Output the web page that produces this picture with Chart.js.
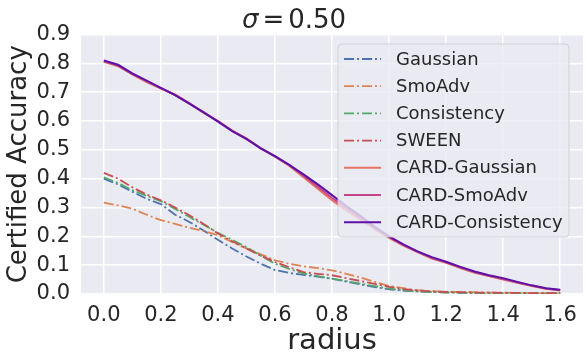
<!DOCTYPE html>
<html>
<head>
<meta charset="utf-8">
<script src="https://cdn.jsdelivr.net/npm/chart.js@4.4.0/dist/chart.umd.min.js"></script>
<style>
html, body { margin: 0; padding: 0; background: #fff; }
</style>
</head>
<body>
<canvas id="chart" width="586" height="362"></canvas>
<script>
// radius grid, step 0.05
const radius = [0, 0.05, 0.1, 0.15, 0.2, 0.25, 0.3, 0.35, 0.4, 0.45, 0.5, 0.55, 0.6, 0.65, 0.7, 0.75, 0.8,
    0.85, 0.9, 0.95, 1.0, 1.05, 1.1, 1.15, 1.2, 1.25, 1.3, 1.35, 1.4, 1.45, 1.5, 1.55, 1.6];

const gaussian = [0.40, 0.38, 0.355, 0.33, 0.312, 0.275, 0.25, 0.22, 0.188, 0.158, 0.13, 0.105, 0.083, 0.073, 0.066, 0.06, 0.053,
    0.043, 0.033, 0.024, 0.016, 0.012, 0.009, 0.007, 0.006, 0.005, 0.004, 0.004, 0.003, 0.003, 0.002, 0.002, 0.002];
const smoAdv = [0.317, 0.307, 0.296, 0.275, 0.256, 0.243, 0.23, 0.218, 0.204, 0.18, 0.158, 0.138, 0.117, 0.105, 0.096, 0.09, 0.082,
    0.07, 0.057, 0.042, 0.028, 0.02, 0.013, 0.01, 0.008, 0.007, 0.006, 0.005, 0.005, 0.004, 0.004, 0.003, 0.003];
const consistency = [0.405, 0.385, 0.36, 0.34, 0.322, 0.295, 0.267, 0.24, 0.212, 0.188, 0.163, 0.133, 0.105, 0.087, 0.071, 0.062, 0.053,
    0.045, 0.036, 0.027, 0.019, 0.013, 0.009, 0.007, 0.005, 0.004, 0.004, 0.003, 0.003, 0.003, 0.002, 0.002, 0.002];
const sween = [0.42, 0.40, 0.37, 0.345, 0.325, 0.30, 0.273, 0.243, 0.21, 0.183, 0.158, 0.133, 0.111, 0.093, 0.076, 0.07, 0.065,
    0.055, 0.045, 0.035, 0.025, 0.017, 0.012, 0.009, 0.007, 0.006, 0.005, 0.005, 0.004, 0.004, 0.003, 0.003, 0.003];
const cardGaussian = [0.805, 0.79, 0.762, 0.735, 0.712, 0.692, 0.662, 0.628, 0.60, 0.567, 0.54, 0.505, 0.476, 0.445, 0.405, 0.365, 0.325,
    0.29, 0.258, 0.225, 0.195, 0.168, 0.145, 0.123, 0.108, 0.09, 0.074, 0.062, 0.05, 0.039, 0.028, 0.018, 0.012];
const cardSmoAdv = [0.808, 0.792, 0.763, 0.738, 0.714, 0.69, 0.66, 0.63, 0.60, 0.566, 0.537, 0.506, 0.477, 0.447, 0.41, 0.372, 0.333,
    0.298, 0.263, 0.228, 0.197, 0.17, 0.146, 0.125, 0.11, 0.092, 0.076, 0.063, 0.052, 0.04, 0.029, 0.019, 0.013];
const cardConsistency = [0.81, 0.795, 0.765, 0.74, 0.715, 0.69, 0.66, 0.63, 0.598, 0.565, 0.538, 0.505, 0.478, 0.448, 0.415, 0.38, 0.343,
    0.305, 0.27, 0.233, 0.20, 0.172, 0.148, 0.128, 0.112, 0.094, 0.078, 0.065, 0.055, 0.042, 0.03, 0.02, 0.015];

const seriesNames = ["Gaussian", "SmoAdv", "Consistency", "SWEEN", "CARD-Gaussian", "CARD-SmoAdv", "CARD-Consistency"];
const seriesValues = [gaussian, smoAdv, consistency, sween, cardGaussian, cardSmoAdv, cardConsistency];
const seriesColors = ["#4C72B0", "#DD8452", "#55A868", "#C44E52", "#E8735F", "#C2478C", "#5E11A6"];
const dashed = [true, true, true, true, false, false, false];

const xTicks = [0, 0.2, 0.4, 0.6, 0.8, 1.0, 1.2, 1.4, 1.6];
const yTicks = [0, 0.1, 0.2, 0.3, 0.4, 0.5, 0.6, 0.7, 0.8, 0.9];

const textColor = "#262626";
const font = "DejaVu Sans";
const dashDot = [10, 3, 2, 3];

const datasets = seriesNames.map((name, i) => ({
    label: name,
    data: radius.map((r, j) => ({ x: r, y: seriesValues[i][j] })),
    borderColor: seriesColors[i],
    borderWidth: dashed[i] ? 1.8 : 2,
    borderDash: dashed[i] ? dashDot : [],
    pointRadius: 0,
    fill: false,
    tension: 0,
    order: seriesNames.length - 1 - i
}));

const plotBackground = {
    id: "plotBackground",
    beforeDraw(chart) {
        const { ctx, chartArea: a } = chart;
        ctx.save();
        ctx.fillStyle = "#EAEAF2";
        ctx.fillRect(a.left, a.top, a.right - a.left, a.bottom - a.top);
        ctx.restore();
    }
};

// title drawn by hand so sigma can be italic, with tight math spacing
const sigmaTitle = {
    id: "sigmaTitle",
    afterDraw(chart) {
        const ctx = chart.ctx;
        ctx.save();
        ctx.fillStyle = textColor;
        ctx.textBaseline = "alphabetic";
        const italic = "italic 26px '" + font + "'";
        const normal = "26px '" + font + "'";
        const parts = [["σ", italic], ["=", normal], ["0.50", normal]];
        const gap = 4;
        const widths = parts.map(([t, f]) => { ctx.font = f; return ctx.measureText(t).width; });
        const total = widths.reduce((a, b) => a + b, 0) + gap * 2;
        let x = 294 - total / 2;
        parts.forEach(([t, f], i) => {
            ctx.font = f;
            ctx.fillText(t, x, 28);
            x += widths[i] + gap;
        });
        ctx.restore();
    }
};

const legendBox = {
    id: "legendBox",
    afterDatasetsDraw(chart) {
        const { ctx, chartArea: a } = chart;
        const w = 231, h = 193;
        const x = a.right - 14 - w, y = a.top + 9.5;
        ctx.save();
        ctx.beginPath();
        ctx.roundRect(x, y, w, h, 4);
        ctx.fillStyle = "rgba(234,234,242,0.8)";
        ctx.fill();
        ctx.strokeStyle = "rgba(204,204,204,0.8)";
        ctx.lineWidth = 1;
        ctx.stroke();
        ctx.font = "18px '" + font + "'";
        ctx.textBaseline = "middle";
        seriesNames.forEach((name, i) => {
            const ry = y + 15 + i * 27.2;
            ctx.beginPath();
            ctx.setLineDash(dashed[i] ? dashDot : []);
            ctx.strokeStyle = seriesColors[i];
            ctx.lineWidth = dashed[i] ? 1.8 : 2;
            ctx.moveTo(x + 6, ry);
            ctx.lineTo(x + 43, ry);
            ctx.stroke();
            ctx.setLineDash([]);
            ctx.fillStyle = textColor;
            ctx.fillText(name, x + 58, ry + 1);
        });
        ctx.restore();
    }
};

new Chart(document.getElementById("chart"), {
    type: "line",
    data: { datasets },
    options: {
        responsive: false,
        animation: false,
        layout: { padding: { top: 34.5, right: 2, left: 0, bottom: 0 } },
        plugins: {
            legend: { display: false },
            title: { display: false },
            tooltip: { enabled: false }
        },
        scales: {
            x: {
                type: "linear",
                min: -0.08,
                max: 1.68,
                afterBuildTicks: s => { s.ticks = xTicks.map(v => ({ value: v })); },
                afterFit: s => { s.height = 68; },
                ticks: {
                    callback: v => v.toFixed(1),
                    color: textColor,
                    font: { family: font, size: 21 },
                    padding: 9,
                    maxRotation: 0
                },
                grid: { color: "#ffffff", lineWidth: 1.5, drawTicks: false },
                border: { display: false },
                title: {
                    display: true,
                    text: "radius",
                    color: textColor,
                    font: { family: font, size: 29 },
                    padding: { top: 0, bottom: 3 }
                }
            },
            y: {
                type: "linear",
                min: 0,
                max: 0.9,
                afterBuildTicks: s => { s.ticks = yTicks.map(v => ({ value: v })); },
                afterFit: s => { s.width = 81; },
                ticks: {
                    callback: v => v.toFixed(1),
                    color: textColor,
                    font: { family: font, size: 21 },
                    padding: 11
                },
                grid: { color: "#ffffff", lineWidth: 1.5, drawTicks: false },
                border: { display: false },
                title: {
                    display: true,
                    text: "Certified Accuracy",
                    color: textColor,
                    font: { family: font, size: 26 },
                    padding: { top: 4, bottom: 0 }
                }
            }
        }
    },
    plugins: [plotBackground, legendBox, sigmaTitle]
});
</script>
</body>
</html>
